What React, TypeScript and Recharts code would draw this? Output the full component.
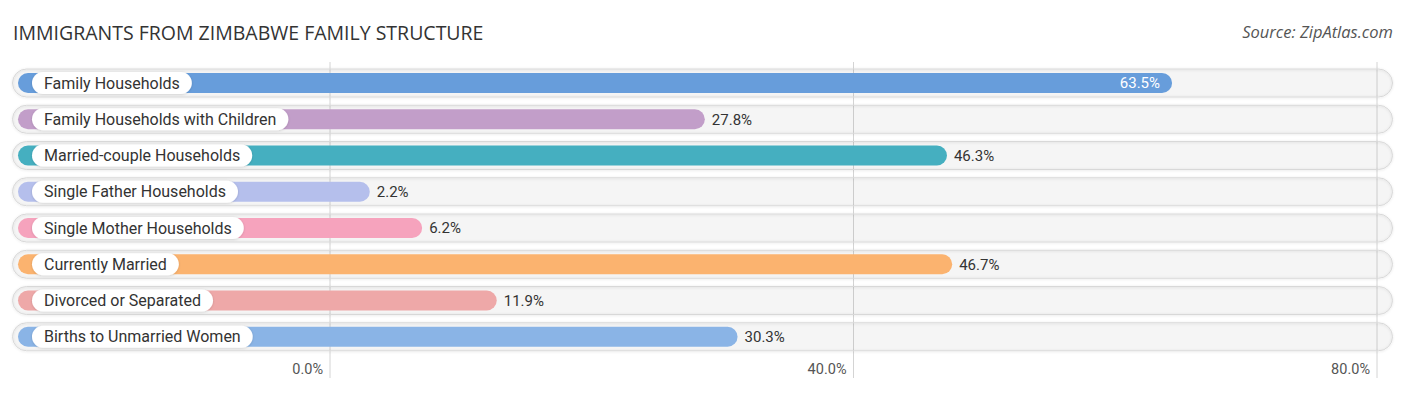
import React from 'react';
import { BarChart, Bar, XAxis, YAxis, CartesianGrid, LabelList } from 'recharts';

const categories = [
  'Family Households',
  'Family Households with Children',
  'Married-couple Households',
  'Single Father Households',
  'Single Mother Households',
  'Currently Married',
  'Divorced or Separated',
  'Births to Unmarried Women',
];
const values = [63.5, 27.8, 46.3, 2.2, 6.2, 46.7, 11.9, 30.3];
const barColors = ['#679ddb', '#c29ec9', '#45afc0', '#b5bfec', '#f6a3bd', '#fbb36f', '#eea8a8', '#8ab4e6'];
const xTicks = [0, 40, 80];

const data = categories.map((name, i) => ({ name, value: values[i], color: barColors[i] }));

const LABEL_SIZE = 16;
let ctx: CanvasRenderingContext2D | null = null;
const measure = (text: string) => {
  if (!ctx) ctx = document.createElement('canvas').getContext('2d');
  if (!ctx) return text.length * 8;
  ctx.font = `${LABEL_SIZE}px Roboto`;
  return ctx.measureText(text).width;
};

const BAR_START = 18;
const CAP = 11; // rounded end sticks out past the value

const Track = (props: any) => {
  const cy = props.y + props.height / 2;
  return (
    <rect x={12.5} y={cy - 14} width={1380} height={28} rx={14}
      fill="rgba(0,0,0,0.035)" stroke="#d8d8d8" strokeWidth={1} filter="url(#trackShadow)" />
  );
};

const PillBar = (props: any) => {
  const { x, y, width, height, payload } = props;
  const end = x + width + CAP;
  return <rect x={BAR_START} y={y} width={end - BAR_START} height={height} rx={height / 2} fill={payload.color} />;
};

const NameLabel = (props: any) => {
  const { y, height, value } = props;
  const cy = y + height / 2;
  const w = measure(value) + 24;
  return (
    <g>
      <rect x={32} y={cy - 11} width={w} height={22} rx={11} fill="#fff" filter="url(#pillShadow)" />
      <text x={44} y={cy} dy="0.35em" fontFamily="Roboto" fontSize={LABEL_SIZE} fill="#333">{value}</text>
    </g>
  );
};

const ValueLabel = (props: any) => {
  const { x, y, width, height, value } = props;
  const cy = y + height / 2;
  const end = x + width + CAP;
  const inside = value > 55;
  return (
    <text x={inside ? end - 12 : end + 7} y={cy} dy="0.35em" textAnchor={inside ? 'end' : 'start'}
      fontFamily="Roboto" fontSize={15} fill={inside ? '#fff' : '#333'}>
      {value.toFixed(1)}%
    </text>
  );
};

const Tick = (props: any) => {
  const { x, payload } = props;
  return (
    <text x={x - 7} y={369} dy="0.35em" textAnchor="end" fontFamily="Roboto" fontSize={14.5} fill="#555">
      {payload.value.toFixed(1)}%
    </text>
  );
};

export default function App() {
  return (
    <div style={{ position: 'absolute', left: 0, top: 0, width: 1406, height: 395, background: '#fff' }}>
      <div style={{ position: 'absolute', left: 13, top: 19, fontFamily: '"Open Sans"', fontSize: 19.5, color: '#333', whiteSpace: 'nowrap' }}>
        IMMIGRANTS FROM ZIMBABWE FAMILY STRUCTURE
      </div>
      <div style={{ position: 'absolute', right: 13, top: 20, fontFamily: '"Open Sans"', fontStyle: 'italic', fontSize: 16.5, color: '#555', whiteSpace: 'nowrap' }}>
        Source: ZipAtlas.com
      </div>
      <BarChart width={1406} height={395} data={data} layout="vertical"
        margin={{ top: 62, right: 29, bottom: 0, left: 330 }} barSize={20}>
        <defs>
          <filter id="trackShadow" x="-5%" y="-50%" width="110%" height="200%">
            <feDropShadow dx={0} dy={0.5} stdDeviation={1} floodColor="#000" floodOpacity={0.14} />
          </filter>
          <filter id="pillShadow" x="-10%" y="-50%" width="120%" height="200%">
            <feDropShadow dx={0} dy={0.5} stdDeviation={1} floodColor="#000" floodOpacity={0.18} />
          </filter>
        </defs>
        <CartesianGrid horizontal={false} stroke="#d4d4d4" />
        <XAxis type="number" domain={[0, 80]} ticks={xTicks} axisLine={false} tickLine={false}
          height={17} tick={<Tick />} interval={0} />
        <YAxis type="category" dataKey="name" hide padding={{ top: 3, bottom: 23 }} />
        <Bar dataKey="value" isAnimationActive={false} background={<Track />} shape={<PillBar />}>
          <LabelList dataKey="name" content={<NameLabel />} />
          <LabelList dataKey="value" content={<ValueLabel />} />
        </Bar>
      </BarChart>
    </div>
  );
}
